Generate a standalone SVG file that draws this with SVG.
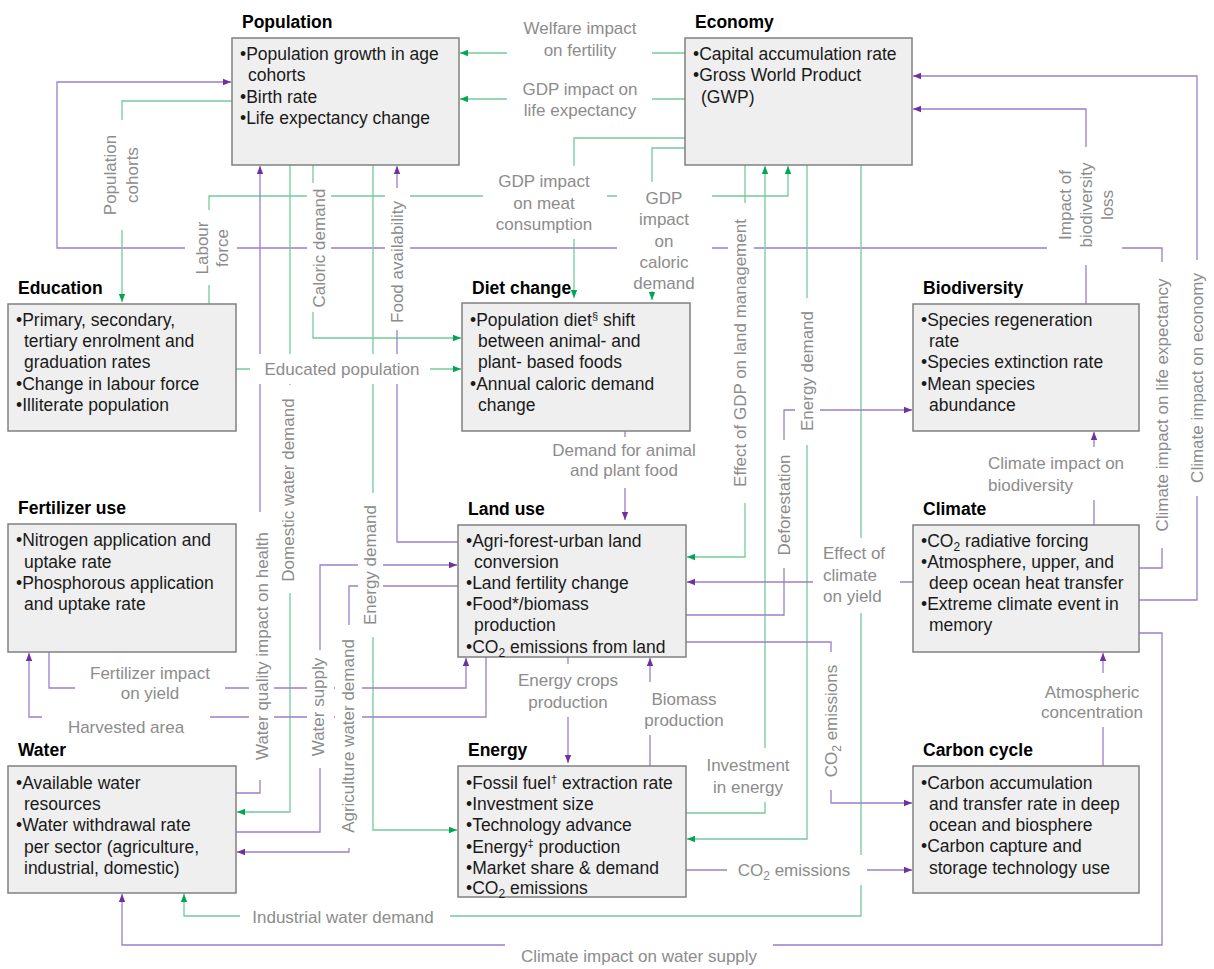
<svg xmlns="http://www.w3.org/2000/svg" width="1214" height="969" viewBox="0 0 1214 969">
<defs>
<style>
.box{fill:#efefef;stroke:#808080;stroke-width:1.5}
.t{font-family:"Liberation Sans",Arial,sans-serif;font-size:17.5px;fill:#1a1a1a}
.h{font-family:"Liberation Sans",Arial,sans-serif;font-size:17.5px;font-weight:bold;fill:#000}
.p{fill:none;stroke:#9b7fcb;stroke-width:1.3}
.g{fill:none;stroke:#74cb98;stroke-width:1.3}
.pa{marker-end:url(#ap)}
.ga{marker-end:url(#ag)}
.bg{fill:#fff}
.l{font-family:"Liberation Sans",Arial,sans-serif;font-size:17px;fill:#8c8c8c}
</style>
<marker id="ap" viewBox="0 0 10 10" refX="10" refY="5" markerWidth="8" markerHeight="8" markerUnits="userSpaceOnUse" orient="auto"><path d="M0,1 L10,5 L0,9 z" fill="#7030a0"/></marker>
<marker id="ag" viewBox="0 0 10 10" refX="10" refY="5" markerWidth="8" markerHeight="8" markerUnits="userSpaceOnUse" orient="auto"><path d="M0,1 L10,5 L0,9 z" fill="#00a651"/></marker>
</defs>
<rect width="1214" height="969" fill="#fff"/>
<g id="connectors">
<path class="g ga" d="M685,53 H460"/>
<path class="g ga" d="M685,99 H460"/>
<path class="g ga" d="M685,138 H574 V298"/>
<path class="g ga" d="M685,148 H652 V300"/>
<path class="g ga" d="M209,304 V196 H788 V166"/>
<path class="p pa" d="M1139,568 H1162 V248 H57 V82 H231"/>
<path class="p pa" d="M1086,304 V109 H913"/>
<path class="p pa" d="M1139,600 H1197 V76 H913"/>
<path class="p pa" d="M1094,525 V432"/>
<path class="p pa" d="M1103,766 V653"/>
<path class="p pa" d="M1139,633 H1162 V945 H122 V894"/>
<path class="g ga" d="M861,165 V916 H184 V894"/>
<path class="g ga" d="M745,165 V557 H687"/>
<path class="g ga" d="M686,813 H765 V166"/>
<path class="g ga" d="M807,165 V839 H687"/>
<path class="p pa" d="M686,615 H784 V410 H912"/>
<path class="p pa" d="M686,642 H831 V803 H912"/>
<path class="p pa" d="M686,870 H912"/>
<path class="p pa" d="M913,582 H687"/>
<path class="p pa" d="M625,431 V520"/>
<path class="p pa" d="M568,657 V763"/>
<path class="p pa" d="M650,766 V658"/>
<path class="g ga" d="M232,101 H122 V302"/>
<path class="g ga" d="M313,165 V338 H461"/>
<path class="g ga" d="M373,165 V830 H457"/>
<path class="p pa" d="M458,542 H397 V166"/>
<path class="g ga" d="M236,369 H461"/>
<path class="p pa" d="M236,793 H260 V166"/>
<path class="g ga" d="M290,165 V812 H237"/>
<path class="p pa" d="M49,652 V688 H466 V658"/>
<path class="p pa" d="M486,657 V717 H29 V653"/>
<path class="p pa" d="M236,832 H320 V565 H457"/>
<path class="p pa" d="M458,586 H349 V852 H237"/>
<g id="labels">
<rect class="bg" x="507" y="12" width="145" height="48"/>
<text class="l" text-anchor="middle"><tspan x="580" y="34">Welfare impact</tspan><tspan x="580" y="56">on fertility</tspan></text>
<rect class="bg" x="507" y="76" width="145" height="44"/>
<text class="l" text-anchor="middle"><tspan x="580" y="95">GDP impact on</tspan><tspan x="580" y="116">life expectancy</tspan></text>
<rect class="bg" x="483" y="166" width="124" height="73"/>
<text class="l" text-anchor="middle"><tspan x="544" y="187">GDP impact</tspan><tspan x="544" y="209">on meat</tspan><tspan x="544" y="230">consumption</tspan></text>
<rect class="bg" x="617" y="182" width="95" height="109"/>
<text class="l" text-anchor="middle"><tspan x="664" y="204">GDP</tspan><tspan x="664" y="225">impact</tspan><tspan x="664" y="247">on</tspan><tspan x="664" y="268">caloric</tspan><tspan x="664" y="289">demand</tspan></text>
<rect class="bg" x="185" y="210" width="52" height="75"/>
<text class="l" text-anchor="middle" transform="translate(212,248) rotate(-90)"><tspan x="0" y="-4">Labour</tspan><tspan x="0" y="16">force</tspan></text>
<rect class="bg" x="1151" y="262" width="22" height="286"/>
<text class="l" text-anchor="middle" transform="translate(1162,405) rotate(-90)"><tspan x="0" y="6">Climate impact on life expectancy</tspan></text>
<rect class="bg" x="1047" y="147" width="75" height="118"/>
<text class="l" text-anchor="middle" transform="translate(1086,205) rotate(-90)"><tspan x="0" y="-15">Impact of</tspan><tspan x="0" y="6">biodiversity</tspan><tspan x="0" y="27">loss</tspan></text>
<rect class="bg" x="1186" y="260" width="22" height="236"/>
<text class="l" text-anchor="middle" transform="translate(1197,378) rotate(-90)"><tspan x="0" y="6">Climate impact on economy</tspan></text>
<rect class="bg" x="984" y="447" width="150" height="53"/>
<text class="l"><tspan x="988" y="469">Climate impact on</tspan><tspan x="988" y="491">biodiversity</tspan></text>
<rect class="bg" x="1034" y="673" width="116" height="54"/>
<text class="l" text-anchor="middle"><tspan x="1092" y="698">Atmospheric</tspan><tspan x="1092" y="718">concentration</tspan></text>
<rect class="bg" x="505" y="936" width="268" height="32"/>
<text class="l" text-anchor="middle" x="639" y="962">Climate impact on water supply</text>
<rect class="bg" x="240" y="904" width="210" height="26"/>
<text class="l" text-anchor="middle" x="343" y="923">Industrial water demand</text>
<rect class="bg" x="728" y="203" width="26" height="300"/>
<text class="l" text-anchor="middle" transform="translate(740,353) rotate(-90)"><tspan x="0" y="6">Effect of GDP on land management</tspan></text>
<rect class="bg" x="703" y="748" width="92" height="54"/>
<text class="l" text-anchor="middle"><tspan x="748" y="771">Investment</tspan><tspan x="748" y="793">in energy</tspan></text>
<rect class="bg" x="795" y="298" width="25" height="147"/>
<text class="l" text-anchor="middle" transform="translate(807,371) rotate(-90)"><tspan x="0" y="6">Energy demand</tspan></text>
<rect class="bg" x="772" y="440" width="25" height="128"/>
<text class="l" text-anchor="middle" transform="translate(784,505) rotate(-90)"><tspan x="0" y="6">Deforestation</tspan></text>
<rect class="bg" x="818" y="652" width="26" height="138"/>
<text class="l" text-anchor="middle" transform="translate(831,721) rotate(-90)"><tspan x="0" y="6">CO</tspan><tspan dy="4" font-size="12">2</tspan><tspan dy="-4"> emissions</tspan></text>
<rect class="bg" x="727" y="855" width="140" height="30"/>
<text class="l" text-anchor="middle" x="794" y="876">CO<tspan dy="4" font-size="12">2</tspan><tspan dy="-4"> emissions</tspan></text>
<rect class="bg" x="813" y="538" width="87" height="75"/>
<text class="l"><tspan x="823" y="559">Effect of</tspan><tspan x="823" y="581">climate</tspan><tspan x="823" y="602">on yield</tspan></text>
<rect class="bg" x="545" y="437" width="160" height="51"/>
<text class="l" text-anchor="middle"><tspan x="624" y="456">Demand for animal</tspan><tspan x="624" y="476">and plant food</tspan></text>
<rect class="bg" x="505" y="664" width="127" height="53"/>
<text class="l" text-anchor="middle"><tspan x="568" y="686">Energy crops</tspan><tspan x="568" y="708">production</tspan></text>
<rect class="bg" x="640" y="682" width="90" height="53"/>
<text class="l" text-anchor="middle"><tspan x="684" y="705">Biomass</tspan><tspan x="684" y="726">production</tspan></text>
<rect class="bg" x="98" y="120" width="47" height="110"/>
<text class="l" text-anchor="middle" transform="translate(121,175) rotate(-90)"><tspan x="0" y="-5">Population</tspan><tspan x="0" y="17">cohorts</tspan></text>
<rect class="bg" x="307" y="183" width="24" height="129"/>
<text class="l" text-anchor="middle" transform="translate(319,248) rotate(-90)"><tspan x="0" y="6">Caloric demand</tspan></text>
<rect class="bg" x="358" y="493" width="25" height="144"/>
<text class="l" text-anchor="middle" transform="translate(370,565) rotate(-90)"><tspan x="0" y="6">Energy demand</tspan></text>
<rect class="bg" x="385" y="188" width="25" height="142"/>
<text class="l" text-anchor="middle" transform="translate(397,262) rotate(-90)"><tspan x="0" y="6">Food availability</tspan></text>
<rect class="bg" x="250" y="354" width="180" height="30"/>
<text class="l" text-anchor="middle" x="342" y="375">Educated population</text>
<rect class="bg" x="249" y="512" width="25" height="268"/>
<text class="l" text-anchor="middle" transform="translate(262,646) rotate(-90)"><tspan x="0" y="6">Water quality impact on health</tspan></text>
<rect class="bg" x="277" y="385" width="23" height="208"/>
<text class="l" text-anchor="middle" transform="translate(288,490) rotate(-90)"><tspan x="0" y="6">Domestic water demand</tspan></text>
<rect class="bg" x="75" y="660" width="150" height="44"/>
<text class="l" text-anchor="middle"><tspan x="150" y="679">Fertilizer impact</tspan><tspan x="150" y="699">on yield</tspan></text>
<rect class="bg" x="42" y="711" width="168" height="30"/>
<text class="l" text-anchor="middle" x="126" y="733">Harvested area</text>
<rect class="bg" x="307" y="650" width="27" height="118"/>
<text class="l" text-anchor="middle" transform="translate(318,707) rotate(-90)"><tspan x="0" y="6">Water supply</tspan></text>
<rect class="bg" x="335" y="625" width="27" height="223"/>
<text class="l" text-anchor="middle" transform="translate(348,736) rotate(-90)"><tspan x="0" y="6">Agriculture water demand</tspan></text>
</g>
</g>
<g id="population">
<rect class="box" x="232" y="38" width="227" height="127"/>
<text class="h" x="242" y="28">Population</text>
<text class="t"><tspan x="240" y="60">•Population growth in age</tspan><tspan x="248" y="81">cohorts</tspan><tspan x="240" y="103">•Birth rate</tspan><tspan x="240" y="124">•Life expectancy change</tspan></text>
</g>
<g id="economy">
<rect class="box" x="685" y="38" width="227" height="127"/>
<text class="h" x="695" y="28">Economy</text>
<text class="t"><tspan x="693" y="60">•Capital accumulation rate</tspan><tspan x="693" y="81">•Gross World Product</tspan><tspan x="701" y="103">(GWP)</tspan></text>
</g>
<g id="education">
<rect class="box" x="8" y="304" width="228" height="127"/>
<text class="h" x="18" y="294">Education</text>
<text class="t"><tspan x="16" y="326">•Primary, secondary,</tspan><tspan x="24" y="347">tertiary enrolment and</tspan><tspan x="24" y="368">graduation rates</tspan><tspan x="16" y="390">•Change in labour force</tspan><tspan x="16" y="411">•Illiterate population</tspan></text>
</g>
<g id="diet-change">
<rect class="box" x="462" y="303" width="228" height="128"/>
<text class="h" x="472" y="294">Diet change</text>
<text class="t"><tspan x="470" y="326">•Population diet</tspan><tspan dy="-6" font-size="11">§</tspan><tspan dy="6"> shift</tspan><tspan x="478" y="347">between animal- and</tspan><tspan x="478" y="368">plant- based foods</tspan><tspan x="470" y="390">•Annual caloric demand</tspan><tspan x="478" y="411">change</tspan></text>
</g>
<g id="biodiversity">
<rect class="box" x="913" y="304" width="226" height="127"/>
<text class="h" x="923" y="294">Biodiversity</text>
<text class="t"><tspan x="921" y="326">•Species regeneration</tspan><tspan x="929" y="347">rate</tspan><tspan x="921" y="368">•Species extinction rate</tspan><tspan x="921" y="390">•Mean species</tspan><tspan x="929" y="411">abundance</tspan></text>
</g>
<g id="fertilizer-use">
<rect class="box" x="8" y="524" width="228" height="128"/>
<text class="h" x="18" y="514">Fertilizer use</text>
<text class="t"><tspan x="16" y="546">•Nitrogen application and</tspan><tspan x="24" y="568">uptake rate</tspan><tspan x="16" y="589">•Phosphorous application</tspan><tspan x="24" y="610">and uptake rate</tspan></text>
</g>
<g id="land-use">
<rect class="box" x="458" y="525" width="228" height="132"/>
<text class="h" x="468" y="515">Land use</text>
<text class="t"><tspan x="466" y="547">•Agri-forest-urban land</tspan><tspan x="474" y="568">conversion</tspan><tspan x="466" y="589">•Land fertility change</tspan><tspan x="466" y="610">•Food*/biomass</tspan><tspan x="474" y="631">production</tspan><tspan x="466" y="653">•CO</tspan><tspan dy="4" font-size="12">2</tspan><tspan dy="-4"> emissions from land</tspan></text>
</g>
<g id="climate">
<rect class="box" x="913" y="525" width="226" height="127"/>
<text class="h" x="923" y="515">Climate</text>
<text class="t"><tspan x="921" y="547">•CO</tspan><tspan dy="4" font-size="12">2</tspan><tspan dy="-4"> radiative forcing</tspan><tspan x="921" y="568">•Atmosphere, upper, and</tspan><tspan x="929" y="589">deep ocean heat transfer</tspan><tspan x="921" y="610">•Extreme climate event in</tspan><tspan x="929" y="631">memory</tspan></text>
</g>
<g id="water">
<rect class="box" x="8" y="766" width="228" height="127"/>
<text class="h" x="18" y="756">Water</text>
<text class="t"><tspan x="16" y="789">•Available water</tspan><tspan x="24" y="810">resources</tspan><tspan x="16" y="831">•Water withdrawal rate</tspan><tspan x="24" y="853">per sector (agriculture,</tspan><tspan x="24" y="874">industrial, domestic)</tspan></text>
</g>
<g id="energy">
<rect class="box" x="458" y="766" width="228" height="131"/>
<text class="h" x="468" y="756">Energy</text>
<text class="t"><tspan x="466" y="789">•Fossil fuel</tspan><tspan dy="-6" font-size="11">†</tspan><tspan dy="6"> extraction rate</tspan><tspan x="466" y="810">•Investment size</tspan><tspan x="466" y="831">•Technology advance</tspan><tspan x="466" y="853">•Energy</tspan><tspan dy="-6" font-size="11">‡</tspan><tspan dy="6"> production</tspan><tspan x="466" y="874">•Market share &amp; demand</tspan><tspan x="466" y="894">•CO</tspan><tspan dy="4" font-size="12">2</tspan><tspan dy="-4"> emissions</tspan></text>
</g>
<g id="carbon-cycle">
<rect class="box" x="913" y="766" width="226" height="127"/>
<text class="h" x="923" y="756">Carbon cycle</text>
<text class="t"><tspan x="921" y="789">•Carbon accumulation</tspan><tspan x="929" y="810">and transfer rate in deep</tspan><tspan x="929" y="831">ocean and biosphere</tspan><tspan x="921" y="852">•Carbon capture and</tspan><tspan x="929" y="874">storage technology use</tspan></text>
</g>
</svg>
